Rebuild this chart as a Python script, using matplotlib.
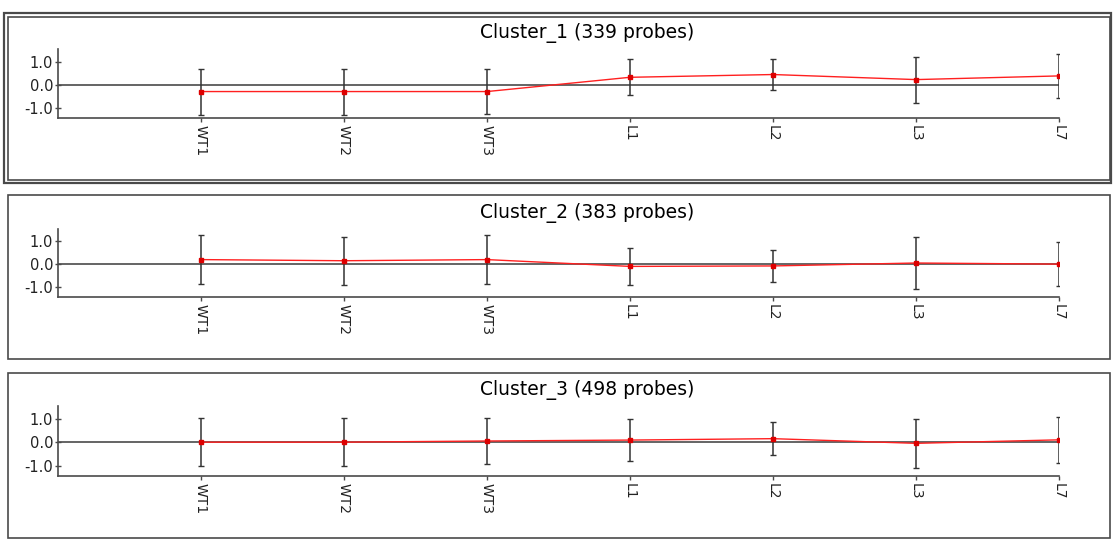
import matplotlib
matplotlib.use("Agg")
import matplotlib.pyplot as plt
from matplotlib.patches import Rectangle

W, H = 1113, 540

samples = ["WT1", "WT2", "WT3", "L1", "L2", "L3", "L7"]

titles = ["Cluster_1 (339 probes)", "Cluster_2 (383 probes)", "Cluster_3 (498 probes)"]

c1_mean = [-0.30, -0.30, -0.30, 0.32, 0.44, 0.22, 0.38]
c1_sd = [1.00, 1.00, 0.96, 0.79, 0.69, 1.00, 0.95]

c2_mean = [0.20, 0.15, 0.20, -0.10, -0.08, 0.05, 0.00]
c2_sd = [1.07, 1.06, 1.07, 0.80, 0.69, 1.13, 0.97]

c3_mean = [0.00, 0.00, 0.05, 0.09, 0.15, -0.05, 0.10]
c3_sd = [1.04, 1.04, 1.00, 0.90, 0.72, 1.05, 1.00]

means = [c1_mean, c2_mean, c3_mean]
sds = [c1_sd, c2_sd, c3_sd]

# pixel layout of each panel: (frame top, frame bottom, axes top, axes bottom, title y)
panels = [
    (17, 180, 49, 118, 33),
    (195, 359, 229, 297, 213),
    (373, 538, 406, 476, 390),
]
AX_L, AX_R = 58, 1059
GRAY = "#4a4a4a"

fig = plt.figure(figsize=(W / 100, H / 100), dpi=100)


def fx(px):
    return px / W


def fy(py):
    return 1 - py / H


# double border round the first (selected) panel
fig.patches.append(Rectangle((fx(4), fy(183)), fx(1107), 170 / H, transform=fig.transFigure,
                             fill=False, edgecolor=GRAY, linewidth=1.6))

for i, (ft, fb, at, ab, ty) in enumerate(panels):
    left = 8
    fig.patches.append(Rectangle((fx(left), fy(fb)), fx(1110 - left), (fb - ft) / H,
                                 transform=fig.transFigure, fill=False,
                                 edgecolor=GRAY, linewidth=1.2))

    ax = fig.add_axes([fx(AX_L), fy(ab), fx(AX_R - AX_L), (ab - at) / H])
    x = range(len(samples))
    ax.axhline(0, color=GRAY, linewidth=1.2, zorder=1)
    ax.errorbar(x, means[i], yerr=sds[i], fmt="none", ecolor="#333333",
                elinewidth=1.1, capsize=2, capthick=1.0, zorder=2)
    ax.plot(x, means[i], "-", color="#ff2020", linewidth=1.0, zorder=3)
    ax.plot(x, means[i], "s", color="#dd0000", markersize=2.5, zorder=4)

    ax.set_xlim(-1, 6)
    ax.set_ylim(-1.45, 1.55)
    ax.set_yticks([1.0, 0.0, -1.0])
    ax.set_yticklabels(["1.0", "0.0", "-1.0"], fontsize=10.5, color="#222222")
    ax.set_xticks(list(x))
    ax.set_xticklabels(samples, rotation=270, fontsize=10, color="#222222")
    ax.tick_params(axis="y", direction="inout", length=5, width=1, color=GRAY, pad=1)
    ax.tick_params(axis="x", direction="out", length=3, width=1, color=GRAY, pad=2)
    for s in ["top", "right"]:
        ax.spines[s].set_visible(False)
    for s in ["left", "bottom"]:
        ax.spines[s].set_color(GRAY)
        ax.spines[s].set_linewidth(1.2)
    ax.patch.set_alpha(0)

    fig.text(fx(587), fy(ty), titles[i], ha="center", va="center", fontsize=13.5)

fig.savefig("out.png", dpi=100)
